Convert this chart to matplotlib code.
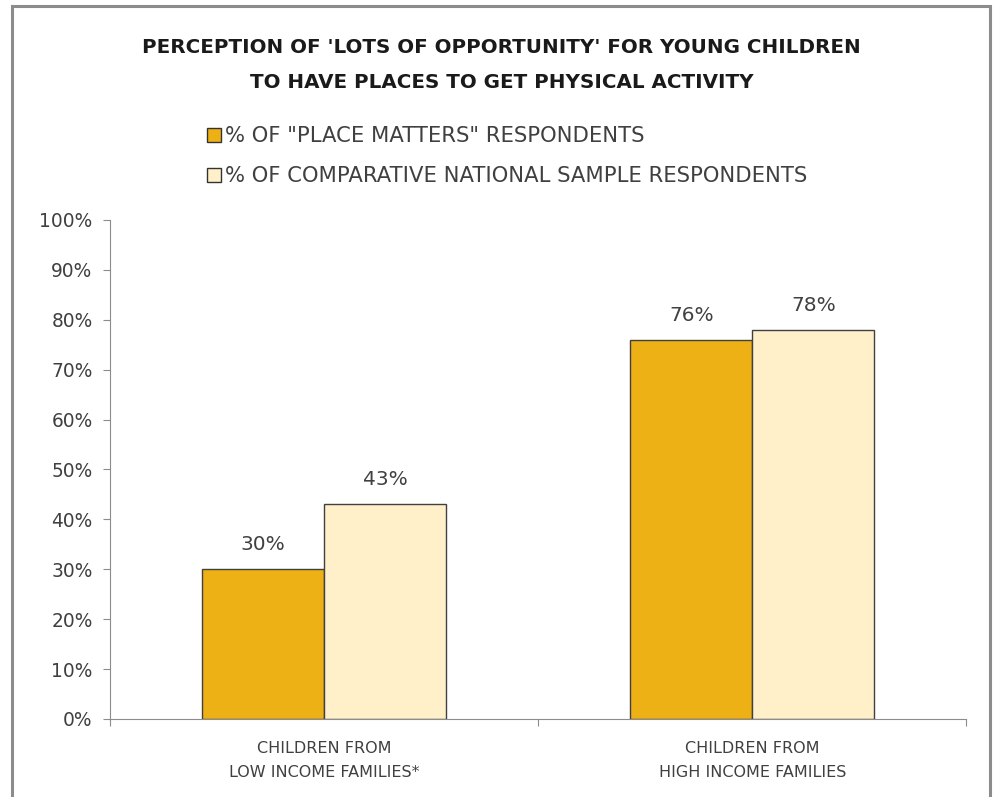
import numpy as np
import matplotlib.pyplot as plt
from matplotlib.patches import Rectangle, Patch

plt.rcParams['font.family'] = ['DejaVu Sans']

# data
categories = ['CHILDREN FROM\nLOW INCOME FAMILIES*', 'CHILDREN FROM\nHIGH INCOME FAMILIES']
series_names = ['% OF "PLACE MATTERS" RESPONDENTS', '% OF COMPARATIVE NATIONAL SAMPLE RESPONDENTS']
place_matters = [30, 76]
national = [43, 78]
colors = ['#EEB115', '#FFF0C9']

fig = plt.figure(figsize=(9.97, 7.97), dpi=100)
ax = fig.add_axes([0.1103, 0.098, 0.8590, 0.626])

# outer frame
fig.patches.append(Rectangle((12/997, -0.1), (990-12)/997, 1.1 - 6/797,
                             transform=fig.transFigure, fill=False,
                             edgecolor='#8c8c8c', lw=2.2))

x = np.arange(len(categories))
w = 0.285
b1 = ax.bar(x - w/2, place_matters, w, color=colors[0], edgecolor='#404040', lw=1)
b2 = ax.bar(x + w/2, national, w, color=colors[1], edgecolor='#404040', lw=1)

for bars, vals in [(b1, place_matters), (b2, national)]:
    for r, v in zip(bars, vals):
        ax.text(r.get_x() + r.get_width()/2, v + 3.0, f'{v}%', ha='center', va='bottom',
                fontsize=14.5, color='#404040')

ax.set_xlim(-0.5, 1.5)
ax.set_ylim(0, 100)
ax.set_yticks(range(0, 101, 10))
ax.set_yticklabels([f'{v}%' for v in range(0, 101, 10)])
ax.set_xticks([-0.5, 0.5, 1.5], minor=False)
ax.set_xticklabels([])
ax.set_xticks(x, minor=True)
ax.set_xticklabels(categories, minor=True, fontsize=11.5, color='#404040', linespacing=1.75)
ax.tick_params(axis='x', which='minor', length=0, pad=16)
ax.tick_params(axis='x', which='major', length=5, color='#8c8c8c', direction='out')
ax.tick_params(axis='y', length=5, color='#8c8c8c', labelsize=13.4, labelcolor='#404040', pad=7.5)

for s in ['top', 'right']:
    ax.spines[s].set_visible(False)
for s in ['left', 'bottom']:
    ax.spines[s].set_color('#8c8c8c')

fig.text(0.503, 1 - 65/797, "PERCEPTION OF 'LOTS OF OPPORTUNITY' FOR YOUNG CHILDREN\nTO HAVE PLACES TO GET PHYSICAL ACTIVITY",
         ha='center', va='center', fontsize=14.3, fontweight='bold', color='#1a1a1a', linespacing=2.05)

handles = [Patch(facecolor=c, edgecolor='#333333', lw=1) for c in colors]
fig.legend(handles, series_names, loc='upper left', bbox_to_anchor=(207/997, 1 - 126/797),
           frameon=False, fontsize=15.2, labelcolor='#404040', handlelength=0.65, handleheight=0.65,
           handletextpad=0.2, labelspacing=0.95, borderaxespad=0, borderpad=0)

fig.savefig('out.png', dpi=100)
